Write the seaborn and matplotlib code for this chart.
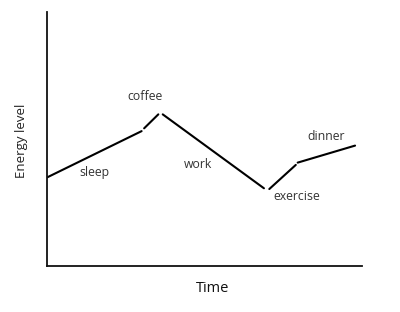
import matplotlib
matplotlib.use("Agg")
import matplotlib.pyplot as plt
import seaborn as sns
import pandas as pd

# Data (in axis units 0-100)
segments = ["sleep", "coffee", "work", "exercise", "dinner"]
x_start = [0.0, 30.9, 36.8, 70.6, 79.6]
y_start = [34.8, 54.2, 59.7, 30.3, 40.7]
x_end = [30.1, 35.4, 68.9, 79.0, 97.8]
y_end = [53.1, 59.7, 30.6, 39.8, 47.4]
label_x = [15.2, 31.2, 48.0, 79.3, 88.6]
label_y = [36.7, 66.7, 39.8, 27.3, 50.9]

rows = []
for s, xs, ys, xe, ye in zip(segments, x_start, y_start, x_end, y_end):
    rows.append({"segment": s, "time": xs, "energy": ys})
    rows.append({"segment": s, "time": xe, "energy": ye})
df = pd.DataFrame(rows)

sns.set_style("white")
plt.rcParams["font.family"] = ["Open Sans", "DejaVu Sans"]

fig = plt.figure(figsize=(4.0, 3.12), dpi=100)
ax = fig.add_axes([46.7 / 400, (312 - 266) / 312, (362 - 46.7) / 400, (266 - 12) / 312])

sns.lineplot(data=df, x="time", y="energy", units="segment", estimator=None,
             color="black", linewidth=1.5, ax=ax)

for s, lx, ly in zip(segments, label_x, label_y):
    ax.text(lx, ly, s, ha="center", va="center", fontsize=8.8, color="#333333")

ax.set_xlim(0, 100)
ax.set_ylim(0, 100)
ax.set_xticks([])
ax.set_yticks([])
ax.set_xlabel("Time", fontsize=10.5, color="#111111")
ax.set_ylabel("Energy level", fontsize=9.5, color="#222222")
ax.xaxis.label.set_va("center")
ax.yaxis.label.set_va("center")
ax.xaxis.set_label_coords(0.527, -0.087)
ax.yaxis.set_label_coords(-0.079, 0.492)
for side in ["top", "right"]:
    ax.spines[side].set_visible(False)
for side in ["left", "bottom"]:
    ax.spines[side].set_color("#111111")
    ax.spines[side].set_linewidth(1.3)

fig.savefig("out.png", dpi=100)
